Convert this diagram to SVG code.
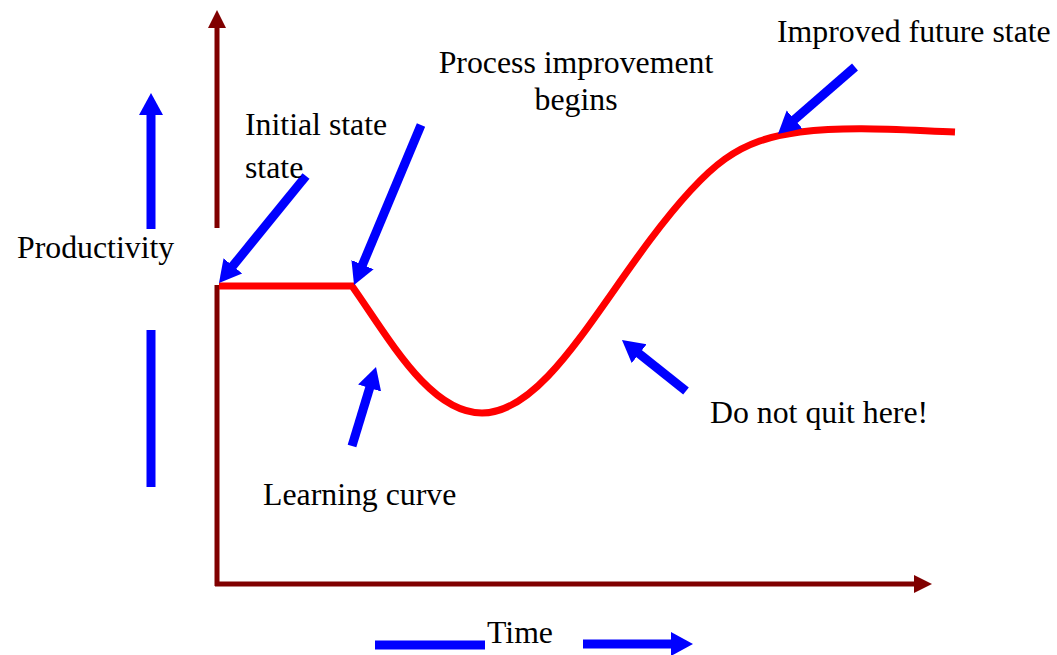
<svg xmlns="http://www.w3.org/2000/svg" width="1057" height="655" viewBox="0 0 1057 655">
<style>
.lbl{font-family:"Liberation Serif","Times New Roman",serif;font-size:31.8px;fill:#000}
.ax{stroke:#800000;stroke-width:5;fill:none}
.bl{stroke:#0000ff;stroke-width:9;fill:none}
.curve{stroke:#ff0000;stroke-width:7;fill:none;stroke-linejoin:miter}
</style>
<defs>
<marker id="bh" markerUnits="userSpaceOnUse" markerWidth="24" markerHeight="26" refX="12" refY="12.5" orient="auto" viewBox="0 0 24 25">
<path d="M0,0.5 L22,12.5 L0,24.5 z" fill="#0000ff"/>
</marker>
<marker id="rh" markerUnits="userSpaceOnUse" markerWidth="20" markerHeight="20" refX="12" refY="9" orient="auto" viewBox="0 0 20 18">
<path d="M0,0 L18,9 L0,18 z" fill="#800000"/>
</marker>
</defs>
<rect width="1057" height="655" fill="#fff"/>
<g id="axes">
<line class="ax" x1="217" y1="228" x2="217" y2="16" marker-end="url(#rh)"/>
<line class="ax" x1="217" y1="285" x2="217" y2="586"/>
<line class="ax" x1="215" y1="584" x2="926" y2="584" marker-end="url(#rh)"/>
</g>
<g id="curve">
<path class="curve" d="M219,286 L352,286 C390,340 430,413 482,413 C540,413 590,320 650,240 C710,160 740,140 800,132 C850,126 900,130 955,132"/>
</g>
<g id="connectors">
<line class="bl" x1="306" y1="176" x2="225.3" y2="275.2" marker-end="url(#bh)"/>
<line class="bl" x1="421" y1="125" x2="357.9" y2="275.8" marker-end="url(#bh)"/>
<line class="bl" x1="855" y1="67" x2="785.5" y2="127.4" marker-end="url(#bh)"/>
<line class="bl" x1="352" y1="446" x2="373.1" y2="376.6" marker-end="url(#bh)"/>
<line class="bl" x1="686" y1="391" x2="629.8" y2="346.2" marker-end="url(#bh)"/>
<line class="bl" x1="151" y1="229" x2="151" y2="103" marker-end="url(#bh)"/>
<line class="bl" x1="151" y1="330" x2="151" y2="487"/>
<line class="bl" x1="375" y1="645" x2="485" y2="645"/>
<line class="bl" x1="583" y1="644" x2="683" y2="644" marker-end="url(#bh)"/>
</g>
<g id="label-improved"><text class="lbl" x="777" y="42">Improved future state</text></g>
<g id="label-process"><text class="lbl" x="576" y="73" text-anchor="middle">Process improvement</text><text class="lbl" x="576" y="110" text-anchor="middle">begins</text></g>
<g id="label-initial"><text class="lbl" x="245" y="135">Initial state</text><text class="lbl" x="245" y="178">state</text></g>
<g id="label-productivity"><text class="lbl" x="17" y="258">Productivity</text></g>
<g id="label-quit"><text class="lbl" x="710" y="423">Do not quit here!</text></g>
<g id="label-learning"><text class="lbl" x="263" y="505">Learning curve</text></g>
<g id="label-time"><text class="lbl" x="487" y="643">Time</text></g>
</svg>
